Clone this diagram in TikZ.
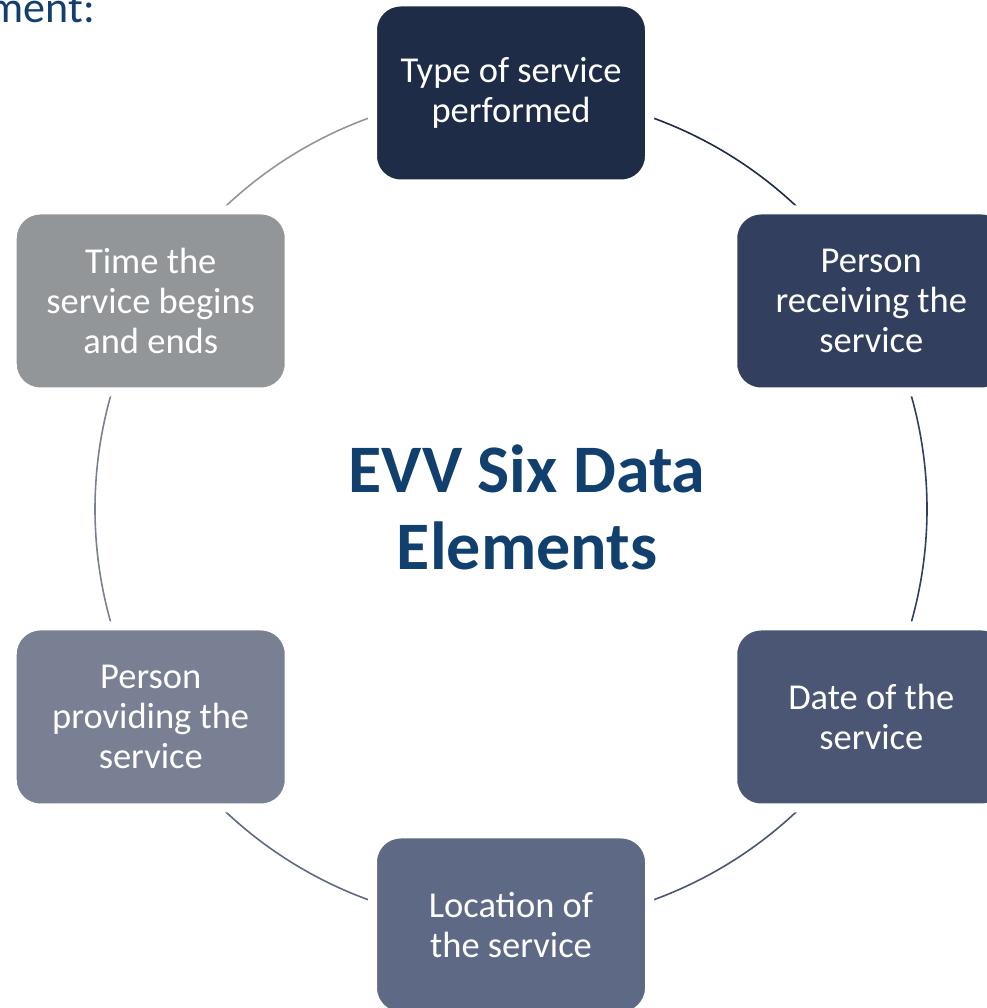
\documentclass[tikz,border=0pt]{standalone}
\usepackage{fontspec}
\setmainfont{Carlito}
\usetikzlibrary{calc,backgrounds}
\definecolor{typecol}{HTML}{1F2C47}
\definecolor{recvcol}{HTML}{323F5E}
\definecolor{datecol}{HTML}{4A5674}
\definecolor{loccol}{HTML}{5E6985}
\definecolor{provcol}{HTML}{7A8093}
\definecolor{timecol}{HTML}{939699}
\definecolor{titlecol}{HTML}{113F6E}

\begin{document}
\begin{tikzpicture}[x=1pt,y=1pt,
    elem/.style={rounded corners=28pt, minimum width=277pt, minimum height=182pt,
      draw=white, line width=9pt, text=white, align=center, inner sep=0pt,
      font=\fontsize{36.5}{40}\selectfont},
    ring/.style={line width=1.6pt}]
    \useasboundingbox (0,0) rectangle (986,1008);
    \coordinate (c) at (511,499);
    %%
    \node[anchor=base east, inner sep=0pt, text=titlecol,
      font=\fontsize{44}{46}\selectfont] (head) at (95,985) {ment:};
    \node[text=titlecol, align=center, font=\bfseries\fontsize{68}{77}\selectfont]
      (title) at ($(c)+(16,2)$) {EVV Six Data\\Elements};
    %%
    \node[elem, fill=typecol] (type) at ($(c)+(90:416)$) {Type of service\\performed};
    \node[elem, fill=recvcol] (recv) at ($(c)+(30:416)$) {Person\\receiving the\\service};
    \node[elem, fill=datecol] (date) at ($(c)+(-30:416)$) {Date of the\\service};
    \node[elem, fill=loccol] (loc) at ($(c)+(-90:416)$) {Location of\\the service};
    \node[elem, fill=provcol] (prov) at ($(c)+(-150:416)$) {Person\\providing the\\service};
    \node[elem, fill=timecol] (time) at ($(c)+(150:416)$) {Time the\\service begins\\and ends};
    %%
    \begin{scope}[on background layer]
      \draw[ring, typecol] (type.center) arc[start angle=90, end angle=30, radius=416pt];
      \draw[ring, recvcol] (recv.center) arc[start angle=30, end angle=-30, radius=416pt];
      \draw[ring, datecol] (date.center) arc[start angle=-30, end angle=-90, radius=416pt];
      \draw[ring, loccol] (loc.center) arc[start angle=-90, end angle=-150, radius=416pt];
      \draw[ring, provcol] (prov.center) arc[start angle=210, end angle=150, radius=416pt];
      \draw[ring, timecol] (time.center) arc[start angle=150, end angle=90, radius=416pt];
    \end{scope}
\end{tikzpicture}
\end{document}
